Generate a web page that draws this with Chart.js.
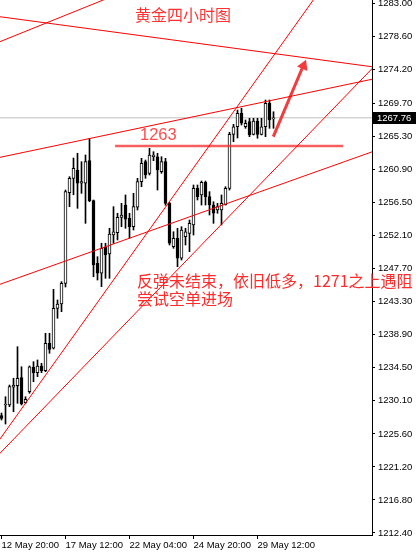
<!DOCTYPE html>
<html>
<head>
<meta charset="utf-8">
<script src="https://cdn.jsdelivr.net/npm/chart.js@4.4.0/dist/chart.umd.min.js"></script>
<style>
  html, body { margin: 0; padding: 0; background: #fff; }
  canvas { display: block; }
</style>
</head>
<body>
<canvas id="goldChart" width="416" height="553"></canvas>
<script>
// time axis: one label every 16 bars (4h bars)
const timeLabels = ['12 May 20:00', '17 May 12:00', '22 May 04:00', '24 May 20:00', '29 May 12:00'];
const labelEvery = 16;

// OHLC per 4h bar
const opens = [
  1228.04, 1229.47, 1229.47, 1231.83, 1232.04, 1233.11, 1229.77, 1231.24, 1234.49, 1233.77,
  1234.67, 1234.04, 1237.69, 1237.03, 1242.36, 1242.93, 1245.69, 1257.77, 1259.69, 1260.80,
  1259.03, 1259.03, 1262.04, 1256.71, 1248.36, 1247.03, 1250.49, 1249.60, 1252.13, 1252.44,
  1254.49, 1256.13, 1254.36, 1253.24, 1255.83, 1259.24, 1261.91, 1260.36, 1262.57, 1262.57,
  1260.57, 1261.91, 1256.36, 1250.57, 1251.69, 1249.03, 1251.91, 1252.36, 1253.47, 1258.36,
  1257.47, 1259.16, 1257.24, 1256.13, 1255.47, 1255.47, 1256.13, 1258.36, 1265.56, 1266.57,
  1268.36, 1266.57, 1267.24, 1265.56, 1267.33, 1265.56, 1266.57, 1269.69, 1267.60
];
const highs = [
  1228.40, 1230.57, 1232.13, 1233.03, 1237.24, 1234.57, 1230.57, 1234.67, 1235.24, 1235.47,
  1235.03, 1239.03, 1239.03, 1244.89, 1243.47, 1245.91, 1258.13, 1259.91, 1262.40, 1263.03,
  1261.91, 1262.80, 1265.03, 1256.80, 1249.24, 1251.03, 1251.03, 1253.03, 1255.91, 1255.03,
  1256.36, 1257.47, 1255.03, 1257.69, 1259.69, 1262.36, 1262.13, 1263.69, 1263.24, 1263.03,
  1262.57, 1262.36, 1256.50, 1252.57, 1253.03, 1253.24, 1253.03, 1254.13, 1258.80, 1258.80,
  1259.33, 1259.33, 1257.91, 1256.57, 1256.36, 1257.47, 1258.57, 1265.83, 1266.89, 1268.80,
  1269.03, 1267.47, 1267.69, 1267.69, 1267.69, 1267.69, 1270.13, 1270.13, 1268.57
];
const lows = [
  1227.47, 1226.93, 1229.24, 1228.57, 1229.69, 1229.47, 1229.69, 1231.03, 1232.57, 1233.24,
  1233.77, 1233.91, 1236.36, 1236.93, 1241.03, 1241.91, 1245.20, 1255.91, 1257.50, 1255.69,
  1257.69, 1253.69, 1256.57, 1246.57, 1246.13, 1245.24, 1246.36, 1246.36, 1251.03, 1251.47,
  1253.24, 1253.03, 1251.69, 1252.80, 1255.47, 1258.57, 1259.69, 1260.13, 1262.04, 1258.13,
  1260.36, 1256.10, 1250.80, 1250.36, 1247.91, 1248.80, 1250.80, 1249.91, 1252.13, 1256.80,
  1256.13, 1256.13, 1254.80, 1253.69, 1255.03, 1253.47, 1256.13, 1258.13, 1264.57, 1265.07,
  1266.80, 1266.36, 1265.24, 1265.47, 1265.03, 1265.47, 1265.24, 1266.36, 1266.36
];
const closes = [
  1227.69, 1229.60, 1231.91, 1232.13, 1233.03, 1229.60, 1230.23, 1234.57, 1233.77, 1234.67,
  1234.04, 1237.69, 1236.89, 1242.36, 1242.93, 1245.69, 1257.91, 1259.69, 1261.03, 1259.03,
  1259.24, 1261.91, 1256.71, 1248.13, 1247.03, 1250.36, 1249.47, 1252.27, 1252.57, 1254.49,
  1254.80, 1254.23, 1253.24, 1255.91, 1259.24, 1261.69, 1260.13, 1262.80, 1262.80, 1260.80,
  1261.91, 1256.36, 1251.03, 1251.69, 1249.03, 1252.80, 1252.57, 1253.69, 1258.36, 1257.24,
  1259.16, 1257.24, 1256.13, 1255.03, 1255.91, 1256.36, 1258.36, 1265.56, 1266.57, 1268.36,
  1267.03, 1267.03, 1265.47, 1267.33, 1265.56, 1266.57, 1269.69, 1267.47, 1267.76
];

// right axis labels as MT4 prints them
const priceTicks = [1283.00, 1278.60, 1274.20, 1269.70, 1265.30, 1260.90, 1256.50, 1252.10,
  1247.70, 1243.30, 1238.90, 1234.50, 1230.10, 1225.60, 1221.20, 1216.80, 1212.40];
const lastPrice = 1267.76;

// drawn trend lines: [bar, price, bar, price]
const trendLines = [
  [-1, 1277.78, 30, 1284.45],
  [-1, 1281.28, 93, 1274.54],
  [-1, 1262.42, 93, 1272.94],
  [-2, 1223.72, 80, 1285.00],
  [-1, 1222.69, 93, 1274.52],
  [-1, 1245.44, 93, 1263.29]
];
const level1263 = [28.4, 85.4, 1264.0];
const arrowShaft = [67.95, 1265.24, 75.2, 1274.4];
const arrowHead = [75.5, 1274.7];

const idx = opens.map((_, i) => i);
const xMin = -0.375, xMax = 92.625;

const seg = (a, b, c, d) => [{x: a, y: b}, {x: c, y: d}];

const datasets = [
  {
    type: 'bar', data: idx.map(i => ({x: i, y: [opens[i], closes[i]]})),
    backgroundColor: idx.map(i => closes[i] >= opens[i] ? '#ffffff' : '#000000'),
    borderColor: '#000', borderWidth: 1, borderSkipped: false,
    barThickness: 3, minBarLength: 1, grouped: false, order: 2
  },
  {
    type: 'bar', data: idx.map(i => ({x: i, y: [lows[i], highs[i]]})),
    backgroundColor: '#000', barThickness: 1, grouped: false, order: 3
  },
  {
    type: 'line', data: seg(xMin, lastPrice, xMax, lastPrice),
    borderColor: '#c0c0c0', borderWidth: 1, pointRadius: 0, order: 4
  }
];
trendLines.forEach(t => datasets.push({
  type: 'line', data: seg(t[0], t[1], t[2], t[3]),
  borderColor: '#ff0000', borderWidth: 1, pointRadius: 0, clip: 0, order: 0
}));
datasets.push({
  type: 'line', data: seg(level1263[0], level1263[2], level1263[1], level1263[2]),
  borderColor: 'rgba(245,40,40,0.75)', borderWidth: 2.5, pointRadius: 0, order: 0
});
datasets.push({
  type: 'line', data: seg(arrowShaft[0], arrowShaft[1], arrowShaft[2], arrowShaft[3]),
  borderColor: '#f03c3c', borderWidth: 3, pointRadius: 0, order: 0
});
datasets.push({
  type: 'line', data: [{x: arrowHead[0], y: arrowHead[1]}], showLine: false,
  pointStyle: 'triangle', pointRadius: 6.5, pointRotation: 23,
  backgroundColor: '#f03c3c', borderColor: '#f03c3c', borderWidth: 0, order: 0
});

const axisFont = {family: 'Liberation Sans', size: 9.5};

// texts and the price tag on the axis
const notes = {
  id: 'notes',
  afterDraw(chart) {
    const c = chart.ctx;
    const y = chart.scales.y;
    const area = chart.chartArea;
    c.save();
    c.textBaseline = 'middle';
    c.textAlign = 'left';
    c.fillStyle = '#ff3333';
    c.font = '16px "Noto Sans CJK SC"';
    c.fillText('黄金四小时图', 135, 14.5);
    c.fillStyle = '#ff2a2a';
    c.fillText('反弹未结束，依旧低多，1271之上遇阻', 137, 280.5);
    c.fillText('尝试空单进场', 137, 299);
    c.fillStyle = '#ff4d4d';
    c.font = '16.5px "Liberation Sans"';
    c.fillText('1263', 140, 135);

    const py = Math.round(y.getPixelForValue(lastPrice));
    c.fillStyle = '#000';
    c.fillRect(area.right + 1, py - 6, 44, 12);
    c.fillStyle = '#fff';
    c.font = '9.5px "Liberation Sans"';
    c.fillText(lastPrice.toFixed(2), area.right + 5, py + 0.5);
    c.restore();
  }
};

new Chart(document.getElementById('goldChart'), {
  type: 'bar',
  data: {datasets},
  options: {
    responsive: false,
    animation: false,
    devicePixelRatio: 1,
    layout: {padding: 0, autoPadding: false},
    plugins: {legend: {display: false}, tooltip: {enabled: false}},
    scales: {
      x: {
        type: 'linear', min: xMin, max: xMax, offset: false,
        grid: {drawOnChartArea: false, tickLength: 4, color: '#000', offset: false},
        border: {color: '#000'},
        ticks: {
          align: 'start', padding: 1, color: '#000', font: axisFont,
          maxRotation: 0, autoSkip: false,
          callback: v => timeLabels[Math.round(v / labelEvery)]
        },
        afterBuildTicks: s => { s.ticks = timeLabels.map((_, k) => ({value: k * labelEvery})); },
        afterFit: s => { s.height = 18; s.paddingLeft = 0; s.paddingRight = 0; }
      },
      y: {
        position: 'right', min: 1212.133, max: 1283.467,
        grid: {drawOnChartArea: false, tickLength: 3, color: '#000'},
        border: {color: '#000'},
        ticks: {padding: 3, color: '#000', font: axisFont, autoSkip: false,
          callback: v => Number(v).toFixed(2)},
        afterBuildTicks: s => { s.ticks = priceTicks.map(v => ({value: v})); },
        afterFit: s => { s.width = 44; s.paddingTop = 0; s.paddingBottom = 0; }
      }
    }
  },
  plugins: [notes]
});
</script>
</body>
</html>
